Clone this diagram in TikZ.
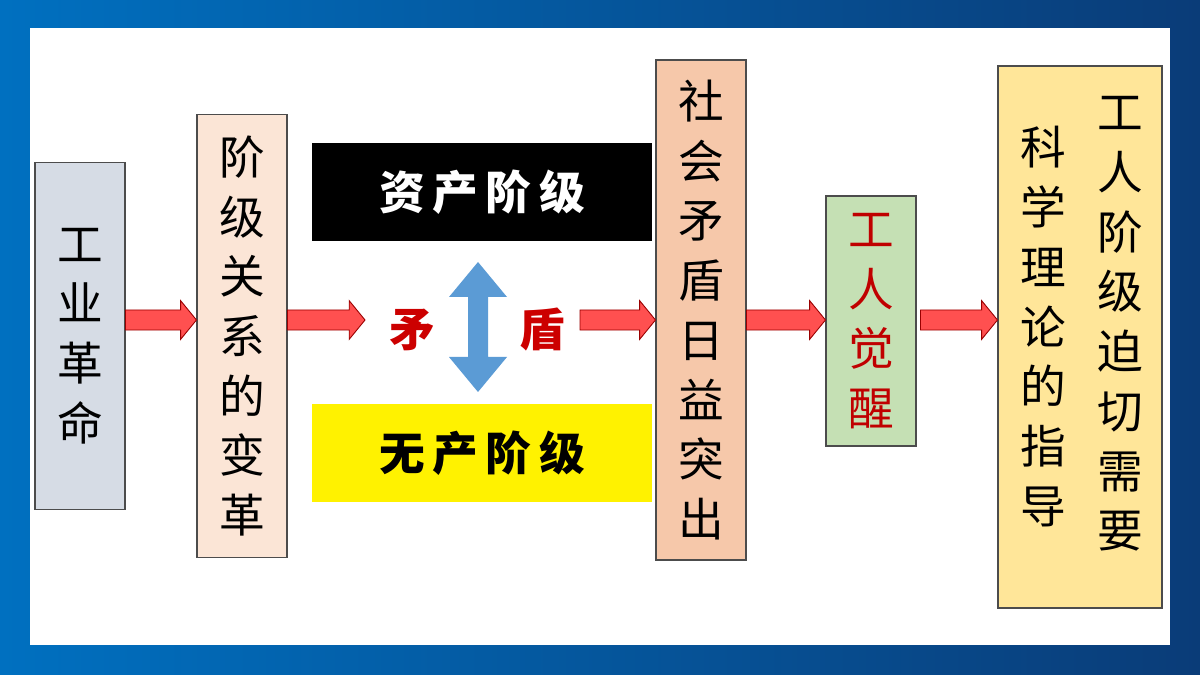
\documentclass[tikz,border=0pt]{standalone}
\usepackage{fontspec}
\newfontfamily\cjk{Noto Sans CJK SC}
\usetikzlibrary{calc}
\definecolor{bordblue}{RGB}{0,112,192}
\definecolor{borddark}{RGB}{10,60,120}
\definecolor{fatred}{RGB}{255,80,80}
\definecolor{dblue}{RGB}{91,155,213}
\tikzset{col/.style={draw=black!70,line width=0.6pt,inner sep=0pt,align=center,font=\cjk\fontsize{26}{34}\selectfont}}
\tikzset{tag/.style={inner sep=0pt,font=\cjk\bfseries\fontsize{26}{30}\selectfont}}
\tikzset{fat/.style={fill=fatred,draw=red!60!black,line width=0.5pt,to path={let \p1=(\tikztostart), \p2=(\tikztotarget) in
  (\x1,\y1+5.7pt) -- (\x2-9pt,\y1+5.7pt) -- (\x2-9pt,\y1+11pt) -- (\x2,\y1) -- (\x2-9pt,\y1-11pt) -- (\x2-9pt,\y1-5.7pt) -- (\x1,\y1-5.7pt) -- cycle}}}
\begin{document}
\begin{tikzpicture}[x=0.02cm,y=-0.02cm]
  \useasboundingbox (0,0) rectangle (1200,675);
  \shade[left color=bordblue,right color=borddark] (0,0) rectangle (1200,675);
  \fill[white] (30,28) rectangle (1170,645);
  % columns
  \node[col,fill={rgb,255:red,214;green,220;blue,229},minimum width=90*0.02cm,minimum height=347*0.02cm] (gy) at (80,336) {工\\业\\革\\命};
  \node[col,fill={rgb,255:red,251;green,229;blue,214},minimum width=90*0.02cm,minimum height=443*0.02cm] (jj) at (242,336) {阶\\级\\关\\系\\的\\变\\革};
  \node[col,fill={rgb,255:red,246;green,200;blue,170},minimum width=90*0.02cm,minimum height=500*0.02cm] (sh) at (701,310) {社\\会\\矛\\盾\\日\\益\\突\\出};
  \node[col,fill={rgb,255:red,197;green,224;blue,180},text={rgb,255:red,192;green,0;blue,0},minimum width=90*0.02cm,minimum height=250*0.02cm] (jx) at (871,321) {工\\人\\觉\\醒};
  \node[col,fill={rgb,255:red,255;green,230;blue,153},minimum width=164*0.02cm,minimum height=542*0.02cm] (zd) at (1080,337) {};
  \node[col,draw=none,anchor=north] (zd1) at (1120,96) {工\\人\\阶\\级\\迫\\切\\需\\要};
  \node[col,draw=none,anchor=north] (zd2) at (1043,126) {科\\学\\理\\论\\的\\指\\导};
  % classes
  \node[fill=black,text=white,tag,minimum width=340*0.02cm,minimum height=98*0.02cm] (zc) at (482,192) {资\,产\,阶\,级};
  \node[fill=yellow,tag,minimum width=340*0.02cm,minimum height=98*0.02cm] (wc) at (482,453) {无\,产\,阶\,级};
  \node[tag,text=red!80!black] (m1) at (412,330) {矛};
  \node[tag,text=red!80!black] (m2) at (542,330) {盾};
  \fill[dblue] (478,262) -- (507,297) -- (488,297) -- (488,357) -- (507,357) -- (478,392)
    -- (449,357) -- (468,357) -- (468,297) -- (449,297) -- cycle;
  % arrows
  \coordinate (a1) at (365,320);
  \coordinate (a2) at (580,320);
  \draw[fat] (gy.east |- 0,320) to (jj.west |- 0,320);
  \draw[fat] (jj.east |- 0,320) to (a1);
  \draw[fat] (a2) to (sh.west |- 0,320);
  \draw[fat] (sh.east |- 0,320) to (jx.west |- 0,320);
  \draw[fat] ($(jx.east |- 0,320)+(4,0)$) to (zd.west |- 0,320);
\end{tikzpicture}
\end{document}
